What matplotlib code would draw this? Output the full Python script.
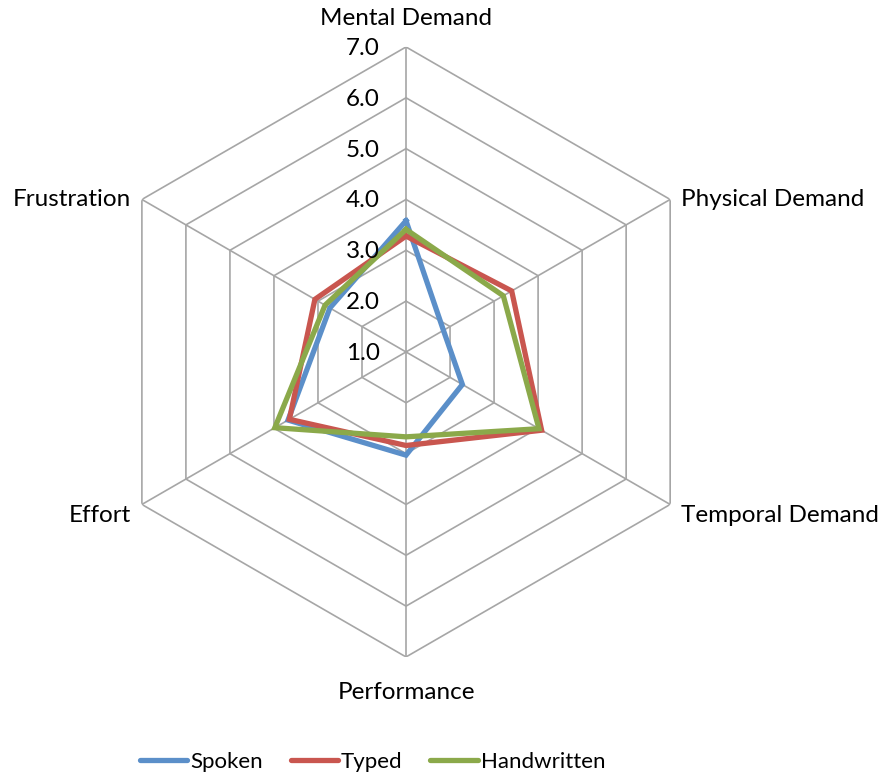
import numpy as np
import matplotlib
matplotlib.use("Agg")
import matplotlib.pyplot as plt

categories = ["Mental Demand", "Physical Demand", "Temporal Demand",
              "Performance", "Effort", "Frustration"]
spoken = [3.58, 1.85, 2.28, 3.03, 3.68, 2.73]
typed = [3.28, 3.40, 4.08, 2.84, 3.65, 3.07]
handwritten = [3.41, 3.21, 4.02, 2.67, 3.98, 2.84]
tick_values = [1.0, 2.0, 3.0, 4.0, 5.0, 6.0, 7.0]
tick_labels = ["1.0", "2.0", "3.0", "4.0", "5.0", "6.0", "7.0"]

series = [("Spoken", spoken, "#5B8FC9"),
          ("Typed", typed, "#C9564F"),
          ("Handwritten", handwritten, "#8BA94A")]

plt.rcParams['font.family'] = ['Lato', 'DejaVu Sans']
FS = 17.5
LFS = 16

fig = plt.figure(figsize=(8.87, 7.76), dpi=100)
ax = fig.add_axes([0.1139, 0.1534, 0.6877, 0.7861], projection='polar')
ax.set_theta_offset(np.pi / 2)
ax.set_theta_direction(-1)
ax.set_ylim(tick_values[0], tick_values[-1])
ax.grid(False)
ax.spines['polar'].set_visible(False)
ax.set_xticks([])
ax.set_yticks([])
ax.patch.set_visible(False)

n = len(categories)
theta = np.linspace(0, 2 * np.pi, n, endpoint=False)
theta_c = np.append(theta, theta[0])

grid_color = "#A6A6A6"
for v in tick_values[1:]:
    ax.plot(theta_c, [v] * (n + 1), color=grid_color, lw=1.2, zorder=1)
for t in theta:
    ax.plot([t, t], [tick_values[0], tick_values[-1]], color=grid_color, lw=1.2, zorder=1)

for name, vals, col in series:
    ax.plot(theta_c, list(vals) + [vals[0]], color=col, lw=3.8, label=name,
            solid_joinstyle='miter', zorder=3)

# tick labels
for v, lab in zip(tick_values, tick_labels):
    ax.annotate(lab, xy=(0, v), xytext=(-19, -1), textcoords='offset points',
                ha='right', va='center', fontsize=FS, color='black')

# category labels
offsets = [((0, 13), 'center', 'bottom'),
           ((8, 0), 'left', 'center'),
           ((8, -8), 'left', 'center'),
           ((0, -18), 'center', 'top'),
           ((-8, -8), 'right', 'center'),
           ((-8, 0), 'right', 'center')]
for t, lab, (off, ha, va) in zip(theta, categories, offsets):
    ax.annotate(lab, xy=(t, tick_values[-1]), xytext=off, textcoords='offset points',
                ha=ha, va=va, fontsize=FS, color='black', annotation_clip=False)

leg = fig.legend(loc='lower center', bbox_to_anchor=(0.42, -0.02), ncol=3, frameon=False,
                 fontsize=LFS, handlelength=2.15, handletextpad=0.12, columnspacing=1.25)
for h in leg.get_lines():
    h.set_solid_capstyle('round')

fig.savefig("out.png", dpi=100)
